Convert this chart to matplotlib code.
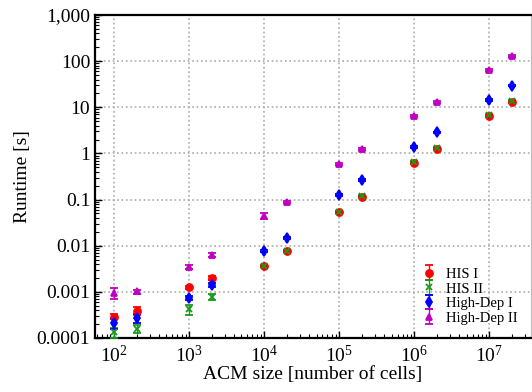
import matplotlib.pyplot as plt
import matplotlib.ticker as mticker
import numpy as np

plt.rcParams["font.family"] = ["Liberation Serif", "DejaVu Serif"]
plt.rcParams["mathtext.fontset"] = "stix"

sizes = [1e2, 2e2, 1e3, 2e3, 1e4, 2e4, 1e5, 2e5, 1e6, 2e6, 1e7, 2e7]

his1 = [0.00029, 0.00039, 0.00125, 0.00200, 0.0036, 0.0077, 0.053, 0.115, 0.62, 1.25, 6.4, 13.0]
his2 = [0.000135, 0.00016, 0.00042, 0.00077, 0.0036, 0.0078, 0.055, 0.117, 0.65, 1.30, 6.9, 13.5]
hd1 = [0.00021, 0.00027, 0.00074, 0.00143, 0.0076, 0.015, 0.125, 0.265, 1.40, 2.85, 14.5, 29.5]
hd2 = [0.00095, 0.00102, 0.0035, 0.0063, 0.044, 0.087, 0.60, 1.22, 6.4, 13.0, 65.0, 128.0]

# relative errors (fraction of the value)
his1_err = [0.12, 0.20, 0.08, 0.08, 0.06, 0.05, 0.05, 0.05, 0.04, 0.04, 0.04, 0.04]
his2_err = [0.25, 0.18, 0.25, 0.15, 0.06, 0.05, 0.05, 0.05, 0.04, 0.04, 0.04, 0.04]
hd1_err = [0.25, 0.20, 0.12, 0.10, 0.06, 0.05, 0.05, 0.05, 0.04, 0.04, 0.04, 0.04]
hd2_err = [0.25, 0.10, 0.10, 0.08, 0.15, 0.05, 0.05, 0.05, 0.04, 0.04, 0.04, 0.04]

labels = ["HIS I", "HIS II", "High-Dep I", "High-Dep II"]
series = [his1, his2, hd1, hd2]
errors = [his1_err, his2_err, hd1_err, hd2_err]
colors = ["#ff0000", "#1a9a1a", "#0000ff", "#c000c0"]
markers = ["o", "x", "d", "^"]

fig = plt.figure(figsize=(5.32, 3.92), dpi=100)
ax = fig.add_axes([95 / 532, 54 / 392, 436 / 532, 323 / 392])

for y, e, lab, c, m in zip(series, errors, labels, colors, markers):
    y = np.array(y)
    err = y * np.array(e)
    ax.errorbar(sizes, y, yerr=err, fmt=m, color=c, ms=5, mew=1.3,
                capsize=3, elinewidth=1, capthick=1, label=lab, zorder=3)

ax.set_xscale("log")
ax.set_yscale("log")
ax.set_xlim(56, 3.6e7)
ax.set_ylim(1e-4, 1e3)

ax.yaxis.set_major_locator(mticker.LogLocator(base=10, numticks=20))
ax.yaxis.set_major_formatter(mticker.FuncFormatter(
    lambda v, p: "{:,}".format(int(v)) if v >= 1 else ("%g" % v if v >= 0.001 else "0.0001")))
ax.xaxis.set_major_locator(mticker.LogLocator(base=10, numticks=20))
ax.xaxis.set_minor_locator(mticker.LogLocator(base=10, subs=np.arange(2, 10), numticks=20))
ax.yaxis.set_minor_locator(mticker.LogLocator(base=10, subs=np.arange(2, 10), numticks=20))
ax.xaxis.set_minor_formatter(mticker.NullFormatter())
ax.yaxis.set_minor_formatter(mticker.NullFormatter())

ax.tick_params(which="both", direction="in", labelsize=14)
ax.tick_params(which="major", length=5, width=1)
ax.tick_params(which="minor", length=3, width=0.8)
ax.tick_params(axis="x", pad=5)

ax.grid(True, which="major", linestyle=":", color="#aaaaaa", linewidth=1.2)

for s in ["left", "bottom", "top"]:
    ax.spines[s].set_linewidth(1.6)
ax.spines["right"].set_color("#bbbbbb")
ax.spines["right"].set_linewidth(0.8)

ax.set_xlabel("ACM size [number of cells]", fontsize=14, labelpad=0)
ax.set_ylabel("Runtime [s]", fontsize=14)

ax.legend(loc="lower right", frameon=False, fontsize=10.5, handletextpad=0.2,
          labelspacing=0.1, borderaxespad=0.5)

plt.savefig("out.png", dpi=100)
